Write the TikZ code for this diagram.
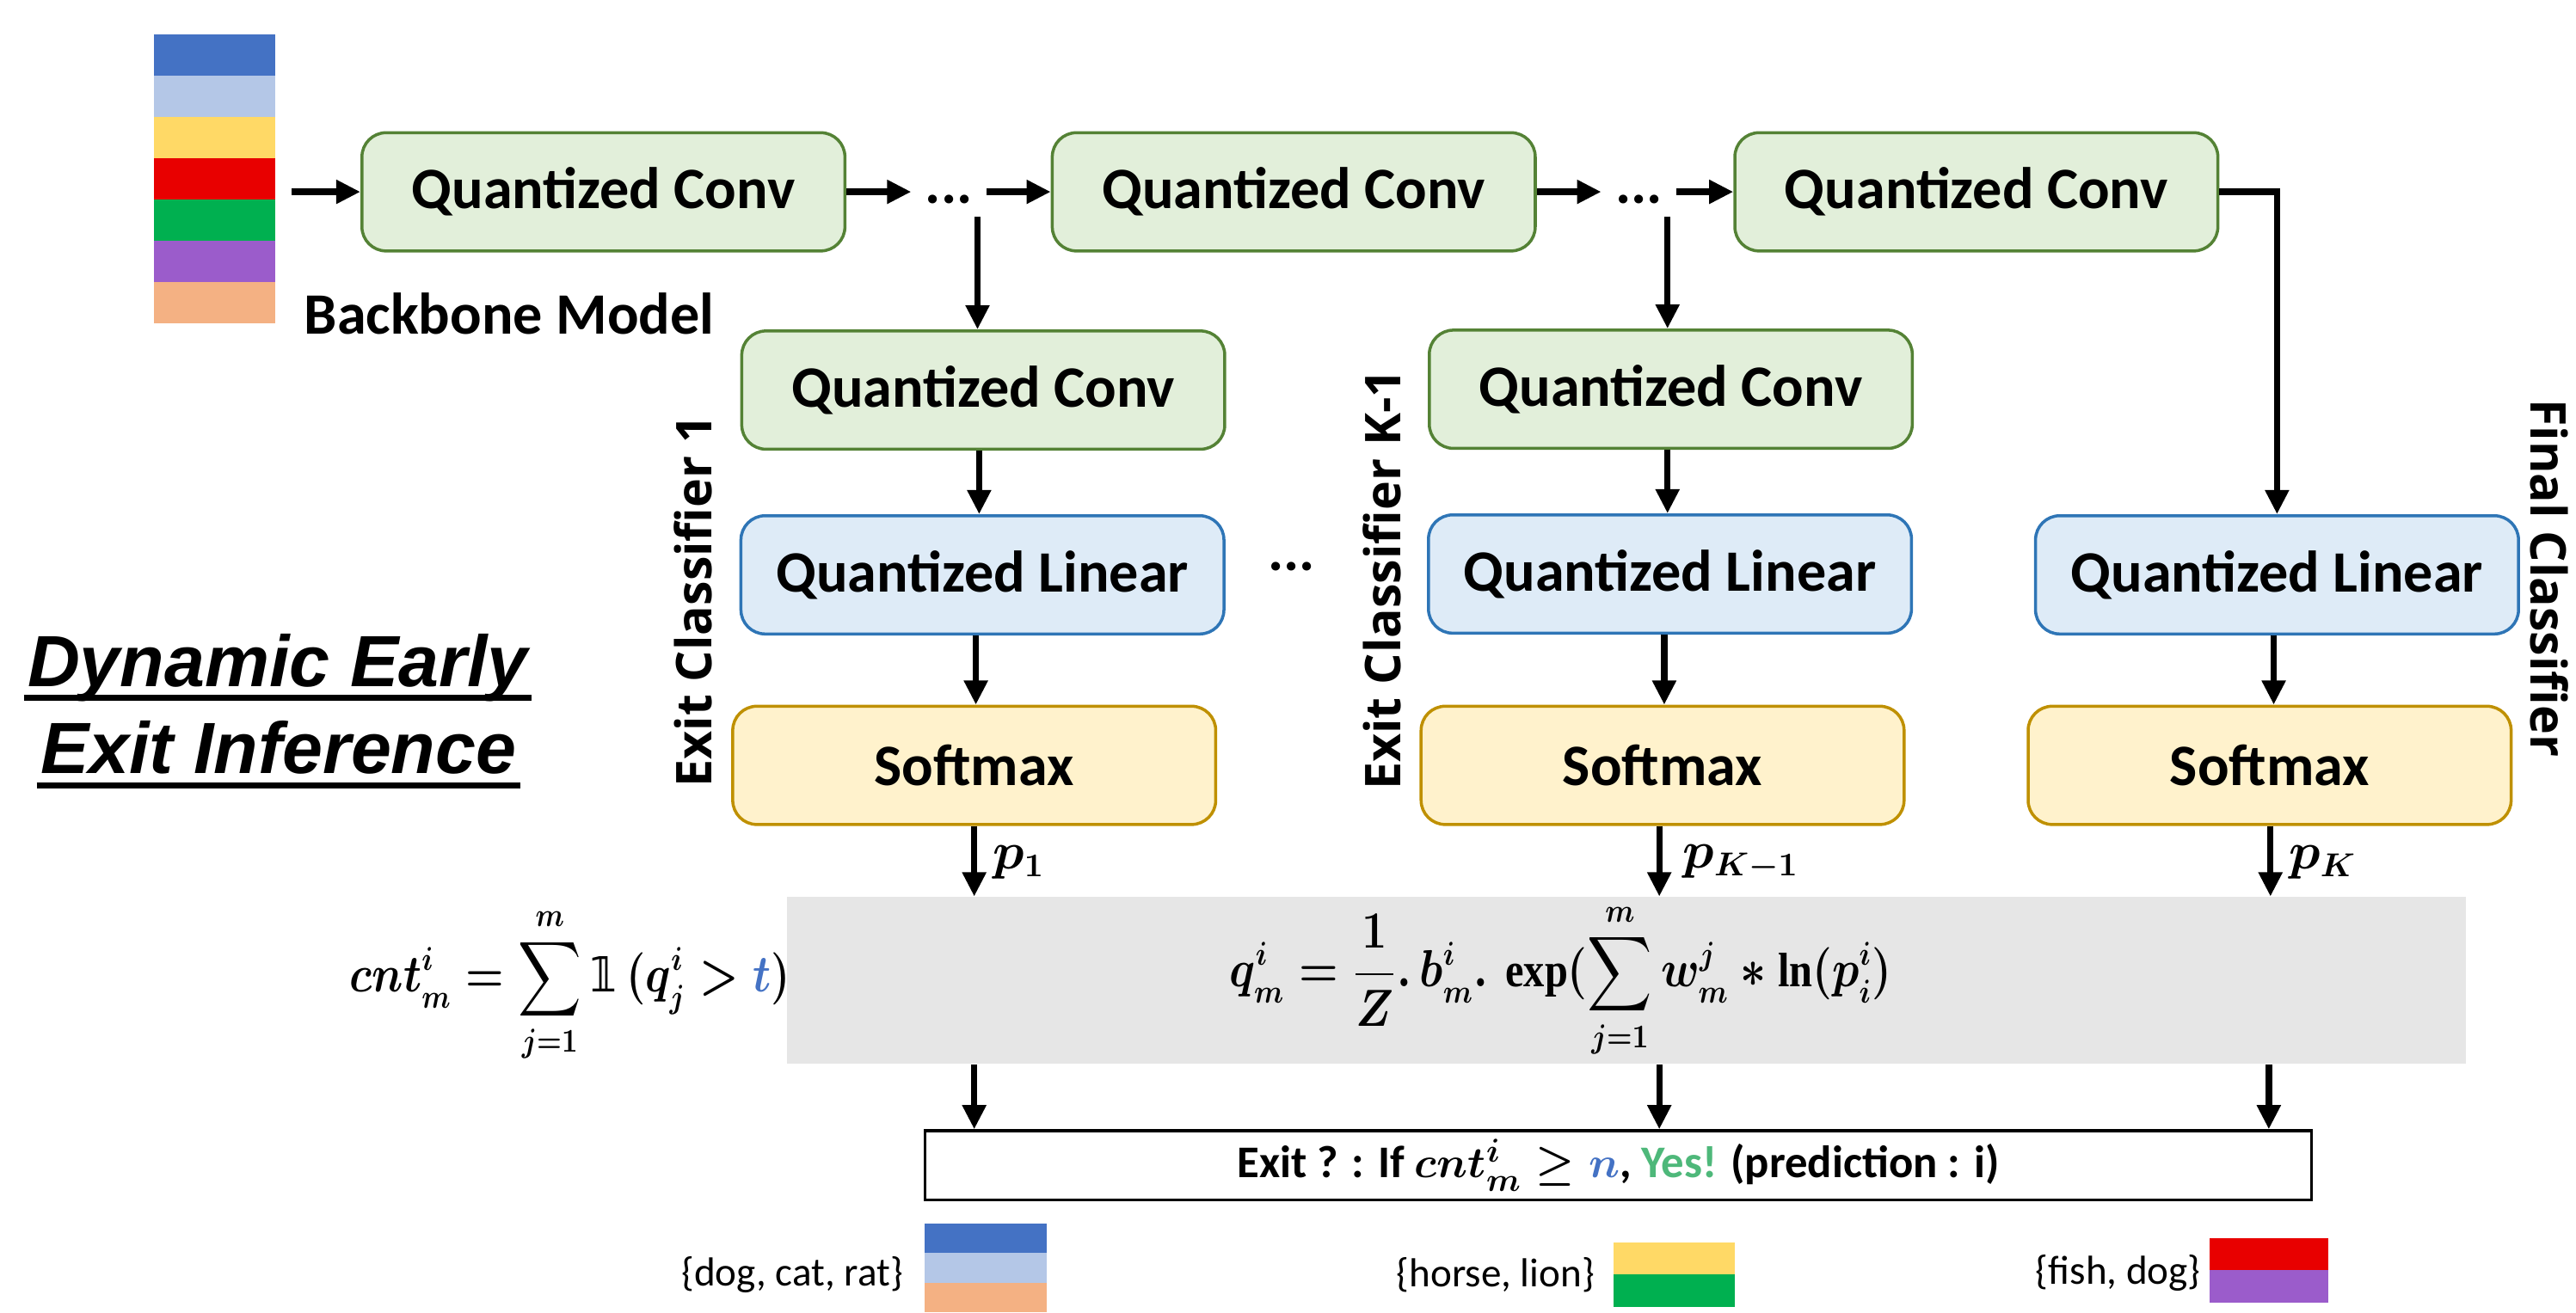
\documentclass[tikz,border=0pt]{standalone}
\usepackage{exscale}
\usepackage{fontspec}
\setmainfont{Carlito}
\newfontfamily\osans{Open Sans}
\newfontfamily\lsans{Liberation Sans}
\newfontfamily\lserif{Liberation Serif}
\newfontfamily\djv{DejaVu Sans}
\usetikzlibrary{arrows.meta,calc}
\newcommand\pxu{0.5434pt}
\newcommand\indic{\hbox{\djv\bfseries 𝟙}}
\newcommand\bexp{\mathop{\hbox{\lserif\bfseries exp}}\nolimits}
\newcommand\bln{\mathop{\hbox{\lserif\bfseries ln}}\nolimits}
\definecolor{convfill}{HTML}{E2EFDA}
\definecolor{convdraw}{HTML}{548235}
\definecolor{linfill}{HTML}{DEEBF7}
\definecolor{lindraw}{HTML}{2E75B6}
\definecolor{softfill}{HTML}{FFF2CC}
\definecolor{softdraw}{HTML}{BF9000}
\definecolor{grayfill}{HTML}{E6E6E6}
\definecolor{nblue}{HTML}{4472C4}
\definecolor{ygreen}{HTML}{4EB87A}
\definecolor{sblue}{HTML}{4472C4}
\definecolor{slblue}{HTML}{B4C7E7}
\definecolor{syellow}{HTML}{FFD966}
\definecolor{sred}{HTML}{E80000}
\definecolor{sgreen}{HTML}{00B050}
\definecolor{spurple}{HTML}{9B5CCB}
\definecolor{speach}{HTML}{F4B183}
\begin{document}
\begin{tikzpicture}[x=0.5434pt,y=-0.5434pt,
  box/.style={rounded corners=8pt, line width=1pt, inner sep=0pt,
    font=\fontsize{19.4}{23}\selectfont\bfseries,
    minimum width={294*\pxu}, minimum height={72*\pxu}},
  conv/.style={box, fill=convfill, draw=convdraw},
  lin/.style={box, fill=linfill, draw=lindraw},
  soft/.style={box, fill=softfill, draw=softdraw},
  arr/.style={line width=2.1pt, -{Triangle[length=8pt,width=7.5pt]}},
  plain/.style={line width=2pt},
  dotsn/.style={inner ysep=0pt, inner xsep=4.5pt, font=\fontsize{19.4}{23}\selectfont\bfseries},
  sidelab/.style={inner sep=0pt, font=\osans\bfseries\fontsize{16.3}{19}\selectfont},
  mathf/.style={inner sep=0pt, font=\fontsize{16}{19}\selectfont\boldmath},
  title/.style={inner sep=0pt, font=\lsans\bfseries\itshape\fontsize{24}{28}\selectfont},
  setlab/.style={inner sep=0pt, font=\fontsize{13.4}{16}\selectfont}
]
\useasboundingbox (0,0) rectangle (1568,799);

% input colour stack
\fill[sblue]   (93.7,21)    rectangle (167.5,46.1);
\fill[slblue]  (93.7,46.1)  rectangle (167.5,71.3);
\fill[syellow] (93.7,71.3)  rectangle (167.5,96.4);
\fill[sred]    (93.7,96.4)  rectangle (167.5,121.6);
\fill[sgreen]  (93.7,121.6) rectangle (167.5,146.7);
\fill[spurple] (93.7,146.7) rectangle (167.5,171.9);
\fill[speach]  (93.7,171.9) rectangle (167.5,197);

\node[inner sep=0pt, font=\fontsize{19.4}{23}\selectfont\bfseries] (bb) at (310,191) {Backbone Model};

% backbone
\node[conv] (c1) at (367.3,116.8) {Quantized Conv};
\node[conv] (c2) at (787.5,116.8) {Quantized Conv};
\node[conv] (c3) at (1203,116.8) {Quantized Conv};
\node[dotsn] (d1) at (577.6,121.5) {...};
\node[dotsn] (d2) at (997.6,121.5) {...};

\coordinate (sin) at (177.6,116.8);
\draw[arr] (sin) -- (c1.west);
\draw[arr] (c1.east) -- (c1.east -| d1.west);
\draw[arr] (c1.east -| d1.east) -- (c2.west);
\draw[arr] (c2.east) -- (c2.east -| d2.west);
\draw[arr] (c2.east -| d2.east) -- (c3.west);

% exit classifier 1
\node[conv] (e1c) at (598.5,237.5) {Quantized Conv};
\node[lin]  (e1l) at (598,350) {Quantized Linear};
\node[soft] (e1s) at (593,466) {Softmax};
% exit classifier K-1
\node[conv] (e2c) at (1017,237) {Quantized Conv};
\node[lin]  (e2l) at (1016.5,349.5) {Quantized Linear};
\node[soft] (e2s) at (1012,466) {Softmax};
% final classifier
\node[lin]  (fl) at (1386,350) {Quantized Linear};
\node[soft] (fs) at (1381.5,466) {Softmax};

\coordinate (b1) at (595,132);
\coordinate (b2) at (1015,132);
\draw[arr] (b1) -- (b1 |- e1c.north);
\draw[arr] (b2) -- (b2 |- e2c.north);
\draw[arr] (c3.east) -| (fl.north);

\draw[arr] (e1c.south -| 596,0) -- (e1l.north -| 596,0);
\draw[arr] (e1l.south -| 594,0) -- (e1s.north -| 594,0);
\draw[arr] (e2c.south -| 1015,0) -- (e2l.north -| 1015,0);
\draw[arr] (e2l.south -| 1013,0) -- (e2s.north -| 1013,0);
\draw[arr] (fl.south -| 1384,0) -- (fs.north -| 1384,0);

\node[sidelab, rotate=90] (lab1) at (422,366) {Exit Classifier 1};
\node[sidelab, rotate=90] (lab2) at (841,353) {Exit Classifier K-1};
\node[sidelab, rotate=-90] (lab3) at (1552,352) {Final Classifier};
\node[dotsn] (dmid) at (786,345) {...};

% title
\node[title, anchor=base] (t1) at (169,418) {Dynamic Early};
\node[title, anchor=base] (t2) at (169.5,471) {Exit Inference};
\draw[plain] ($(t1.base west)+(-2,7)$) -- ($(t1.base east)+(2,7)$);
\draw[plain] ($(t2.base west)+(-2,7)$) -- ($(t2.base east)+(2,7)$);

% aggregation
\node[fill=grayfill, inner sep=0pt, minimum width={1022*\pxu}, minimum height={101.6*\pxu}] (agg) at (990,597) {};
\node[mathf] (qf) at (950,597) {\scalebox{0.86}[1]{$\displaystyle q^{i}_{m} = \frac{1}{Z}.\, b^{i}_{m}.\, \bexp(\sum_{j=1}^{m} w^{j}_{m} * \bln(p^{i}_{i})$}};
\node[mathf] (cntf) at (347,600) {\scalebox{0.84}[1]{$\displaystyle cnt^{i}_{m} = \sum_{j=1}^{m} \indic\,(q^{i}_{j} > {\color{nblue}t})$}};

\draw[arr] (e1s.south) -- (e1s.south |- agg.north);
\draw[arr] (e2s.south -| 1010,0) -- (agg.north -| 1010,0);
\draw[arr] (fs.south -| 1382,0) -- (agg.north -| 1382,0);
\node[mathf, anchor=west] (p1) at (604,525) {$p_{1}$};
\node[mathf, anchor=west] (p2) at (1024,525) {$p_{K-1}$};
\node[mathf, anchor=west] (p3) at (1393,525) {$p_{K}$};

% exit decision
\node[draw=black, line width=1pt, fill=white, inner sep=0pt,
  minimum width={844*\pxu}, minimum height={42*\pxu},
  font=\fontsize{15}{18}\selectfont\bfseries\boldmath] (exit) at (985,709.5)
  {Exit ? : If $cnt^{i}_{m} \geq {\color{nblue}n}$, {\color{ygreen}Yes!} (prediction : i)};
\draw[arr] (agg.south -| 593,0) -- (exit.north -| 593,0);
\draw[arr] (agg.south -| 1010,0) -- (exit.north -| 1010,0);
\draw[arr] (agg.south -| 1381,0) -- (exit.north -| 1381,0);

% output sets
\node[setlab, anchor=east] (s1) at (550,776) {\{dog, cat, rat\}};
\fill[sblue]  (563,745) rectangle (637,763);
\fill[slblue] (563,763) rectangle (637,781);
\fill[speach] (563,781) rectangle (637,799);
\node[setlab, anchor=east] (s2) at (971,776) {\{horse, lion\}};
\fill[syellow] (982,756.5) rectangle (1056,776);
\fill[sgreen]  (982,776) rectangle (1056,796);
\node[setlab, anchor=east] (s3) at (1340,775) {\{fish, dog\}};
\fill[sred]    (1345,754) rectangle (1417,773.5);
\fill[spurple] (1345,773.5) rectangle (1417,793);
\end{tikzpicture}
\end{document}
